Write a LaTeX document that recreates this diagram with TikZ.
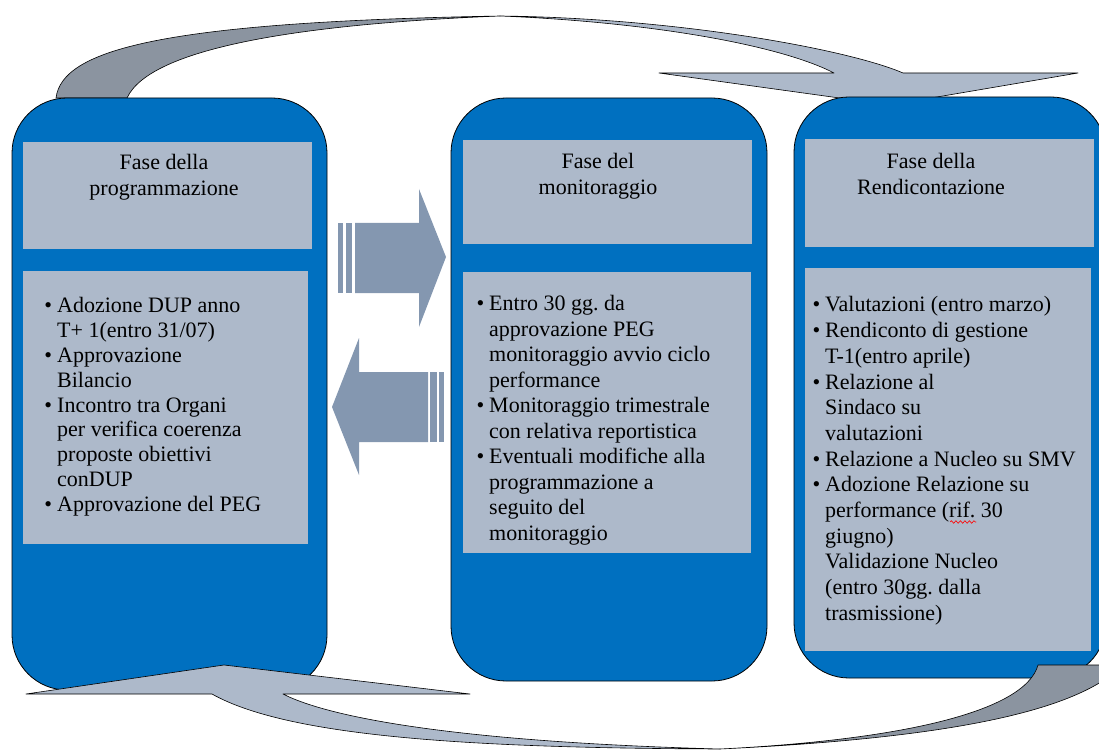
\documentclass[tikz,border=0pt]{standalone}
\usepackage{fontspec}
\setmainfont{Liberation Serif}
\usepackage{tikz}
\usetikzlibrary{decorations.pathmorphing}
\definecolor{colblue}{RGB}{0,112,192}
\definecolor{boxgray}{RGB}{173,185,202}
\definecolor{arrgray}{RGB}{132,151,176}
\definecolor{bandgray}{RGB}{139,148,160}
\newcommand{\bul}{\llap{\textbullet\hspace{5pt}}}
\frenchspacing

\begin{document}
\begin{tikzpicture}[line cap=round,line join=round,x=1pt,y=-1pt,
  col/.style={fill=colblue,draw=black,line width=0.8pt,rounded corners=55pt},
  box/.style={fill=boxgray},
  arr/.style={fill=arrgray},
  bandlight/.style={fill=boxgray,draw=black,line width=0.6pt},
  banddark/.style={fill=bandgray,draw=black,line width=0.6pt},
  wavy/.style={draw=red,line width=0.6pt,decorate,decoration={snake,amplitude=1.3pt,segment length=4.5pt}},
  hdr/.style={font=\fontsize{22}{26}\selectfont,align=center,inner sep=0pt,anchor=north},
  txt/.style={font=\fontsize{22}{25.5}\selectfont,align=left,inner sep=0pt,anchor=north west}]
\useasboundingbox (0,0) rectangle (1099,751);
\draw [banddark] (56,98) .. controls (62,50) and (160,22) .. (500,16) .. controls (300,24) and (150,48) .. (127,98) -- cycle;
\draw [bandlight] (500,16) .. controls (680,18) and (850,50) .. (903,73) -- (1078,73) -- (890,105) -- (659,73) -- (834,73) .. controls (780,45) and (650,22) .. (500,16) -- cycle;
\draw [col] (12,98) rectangle (327,690);
\draw [col] (451,98) rectangle (767,681);
\draw [col] (794,97) rectangle (1106,678);
\fill [box] (23,142) rectangle (312,249);
\fill [box] (23,271) rectangle (308,544);
\fill [box] (463,140) rectangle (752,244);
\fill [box] (463,272) rectangle (751,553);
\fill [box] (805,139) rectangle (1094,247);
\fill [box] (805,268) rectangle (1091,651);
\node [hdr] (hdrL) at (164,154) {Fase della\\programmazione};
\node [hdr] (hdrM) at (598,153) {Fase del\\monitoraggio};
\node [hdr] (hdrR) at (931,153) {Fase della\\Rendicontazione};
\node [txt,font=\fontsize{22}{24.8}\selectfont] (txtL) at (57,297.5) {\bul Adozione DUP anno\\T+ 1(entro 31/07)\\\bul Approvazione\\Bilancio\\\bul Incontro tra Organi\\per verifica coerenza\\proposte obiettivi\\conDUP\\\bul Approvazione del PEG};
\node [txt] (txtM) at (489,295.5) {\bul Entro 30 gg. da\\approvazione PEG\\monitoraggio avvio ciclo\\performance\\\bul Monitoraggio trimestrale\\con relativa reportistica\\\bul Eventuali modifiche alla\\programmazione a\\seguito del\\monitoraggio};
\node [txt,font=\fontsize{22}{25.7}\selectfont] (txtR) at (825,296.5) {\bul Valutazioni (entro marzo)\\\bul Rendiconto di gestione\\T-1(entro aprile)\\\bul Relazione al\\Sindaco su\\valutazioni\\\bul Relazione a Nucleo su SMV\\\bul Adozione Relazione su\\performance (rif. 30\\giugno)\\Validazione Nucleo\\(entro 30gg. dalla\\trasmissione)};
\draw [wavy] (950,522) -- (976,522);
\fill [arr] (355,223) -- (419,223) -- (419,189) -- (446,257) -- (419,327) -- (419,293) -- (355,293) -- cycle;
\fill [arr] (338,223) rectangle (343,293);
\fill [arr] (346,223) rectangle (352,293);
\fill [arr] (428,372) -- (359,372) -- (359,338) -- (332,407) -- (359,475) -- (359,442) -- (428,442) -- cycle;
\fill [arr] (430,372) rectangle (437,442);
\fill [arr] (439,372) rectangle (444,442);
\draw [bandlight] (26,694) -- (224,665) -- (470,694) -- (283,694) .. controls (330,718) and (460,742) .. (720,749) .. controls (480,748) and (290,738) .. (212,694) -- cycle;
\draw [banddark] (720,749) .. controls (900,740) and (1025,712) .. (1038,665) -- (1110,665) -- (1110,676) .. controls (1060,712) and (950,738) .. (720,749) -- cycle;
\end{tikzpicture}
\end{document}
